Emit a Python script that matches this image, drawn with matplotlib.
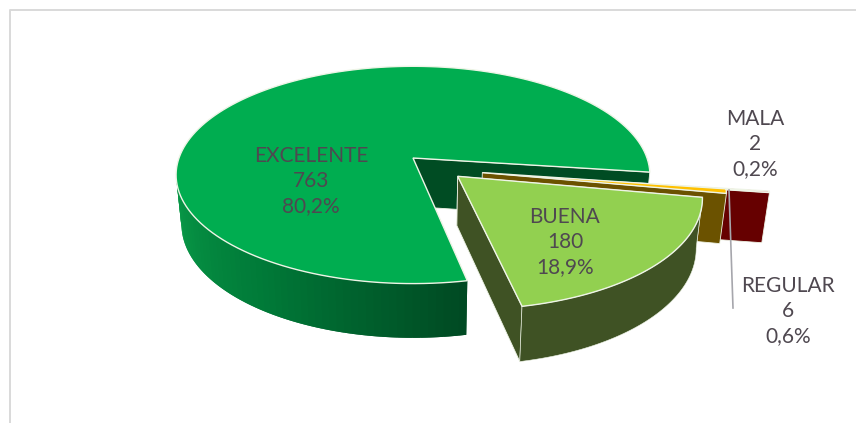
import numpy as np
import matplotlib.pyplot as plt

plt.rcParams['font.family'] = ['Lato', 'DejaVu Sans']

labels = ['EXCELENTE', 'MALA', 'REGULAR', 'BUENA']
values = [763, 2, 6, 180]
percents = ['80,2%', '0,2%', '0,6%', '18,9%']
top_colors = ['#00AD50', '#C00000', '#FFC000', '#92D050']
face_colors = ['#004C23', '#660000', '#6B5200', '#3F5224']
# slice offset on the pie plane, pie radius = 1
explode_u = [0.0, 0.46, 0.29, 0.186]
explode_v = [0.0, -0.167, -0.135, -0.168]
label_x = [311, 755, 788, 565]
label_y = [181, 144, 311, 242]

CX, CY = 413, 158
A, B, K = 234, 106, 0.156
EDGE = '#EEF4E6'
TEXT = '#4F4850'


def project(u, v):
    w = 1 + K * v
    return CX + A * u / w, CY - B * v / w


def drop(x, y):
    # same point on the lower rim of the pie
    return x + (420 - x) * 0.022, y + 50 + (y - 190) * 0.045


def rim(t0, t1, du, dv, n=160):
    t = np.radians(np.linspace(t0, t1, n))
    return project(np.cos(t) + du, np.sin(t) + dv)


fig = plt.figure(figsize=(8.56, 4.23), dpi=100)
ax = fig.add_axes([0, 0, 1, 1])
ax.set_xlim(0, 856)
ax.set_ylim(423, 0)
ax.axis('off')

# chart frame
ax.plot([10.5, 10.5, 856], [423, 10.5, 10.5], color='#D9D9D9', lw=1.4)

total = sum(values)
sweeps = [360 * val / total for val in values]
start = -7.5 + sweeps[0]
edges = [start]
for s in sweeps:
    edges.append(edges[-1] - s)
# edges[i] -> edges[i+1] runs clockwise for slice i


def radial_face(t, du, dv, color):
    ax_, ay_ = project(du, dv)
    rx, ry = project(np.cos(np.radians(t)) + du, np.sin(np.radians(t)) + dv)
    bx1, by1 = drop(ax_, ay_)
    bx2, by2 = drop(rx, ry)
    ax.fill([ax_, rx, bx2, bx1], [ay_, ry, by2, by1], color=color, ec=EDGE, lw=0.6)


def top_face(i):
    x, y = rim(edges[i], edges[i + 1], explode_u[i], explode_v[i])
    ax0, ay0 = project(explode_u[i], explode_v[i])
    ax.fill(np.r_[ax0, x], np.r_[ay0, y], color=top_colors[i], ec=EDGE, lw=1.0)


# EXCELENTE: front wall with the shading, then inner face and top
wall_t = np.linspace(185, edges[0], 60)
wall_r = np.interp(wall_t, [185, 235, edges[0]], [10, 0, 0])
wall_g = np.interp(wall_t, [185, 235, edges[0]], [158, 122, 72])
wall_b = np.interp(wall_t, [185, 235, edges[0]], [74, 56, 34])
for j in range(len(wall_t) - 1):
    # run each strip past the next one so no seam shows
    x, y = rim(wall_t[j], wall_t[min(j + 2, len(wall_t) - 1)], 0, 0, n=4)
    bx, by = drop(x, y)
    c = (wall_r[j] / 255, wall_g[j] / 255, wall_b[j] / 255)
    ax.fill(np.r_[x, bx[::-1]], np.r_[y, by[::-1]], color=c, lw=0)
radial_face(edges[1], 0, 0, face_colors[0])
top_face(0)

# MALA and REGULAR: thin slices, only cut face and sliver of top show
radial_face(edges[2], explode_u[1], explode_v[1], face_colors[1])
top_face(1)
radial_face(edges[3], explode_u[2], explode_v[2], face_colors[2])
top_face(2)

# BUENA
radial_face(edges[3], explode_u[3], explode_v[3], face_colors[3])
radial_face(edges[4], explode_u[3], explode_v[3], face_colors[3])
x, y = rim(edges[3], edges[4], explode_u[3], explode_v[3])
bx, by = drop(x, y)
ax.fill(np.r_[x, bx[::-1]], np.r_[y, by[::-1]], color=face_colors[3], ec=EDGE, lw=0.4)
top_face(3)

# leader line of REGULAR
ax.plot([729, 733], [190, 308], color='#A6A6AC', lw=1.2)

for i in range(4):
    ax.text(label_x[i], label_y[i], f'{labels[i]}\n{values[i]}\n{percents[i]}',
            ha='center', va='center', color=TEXT, fontsize=15,
            linespacing=1.32)

fig.savefig('out.png', dpi=100)
